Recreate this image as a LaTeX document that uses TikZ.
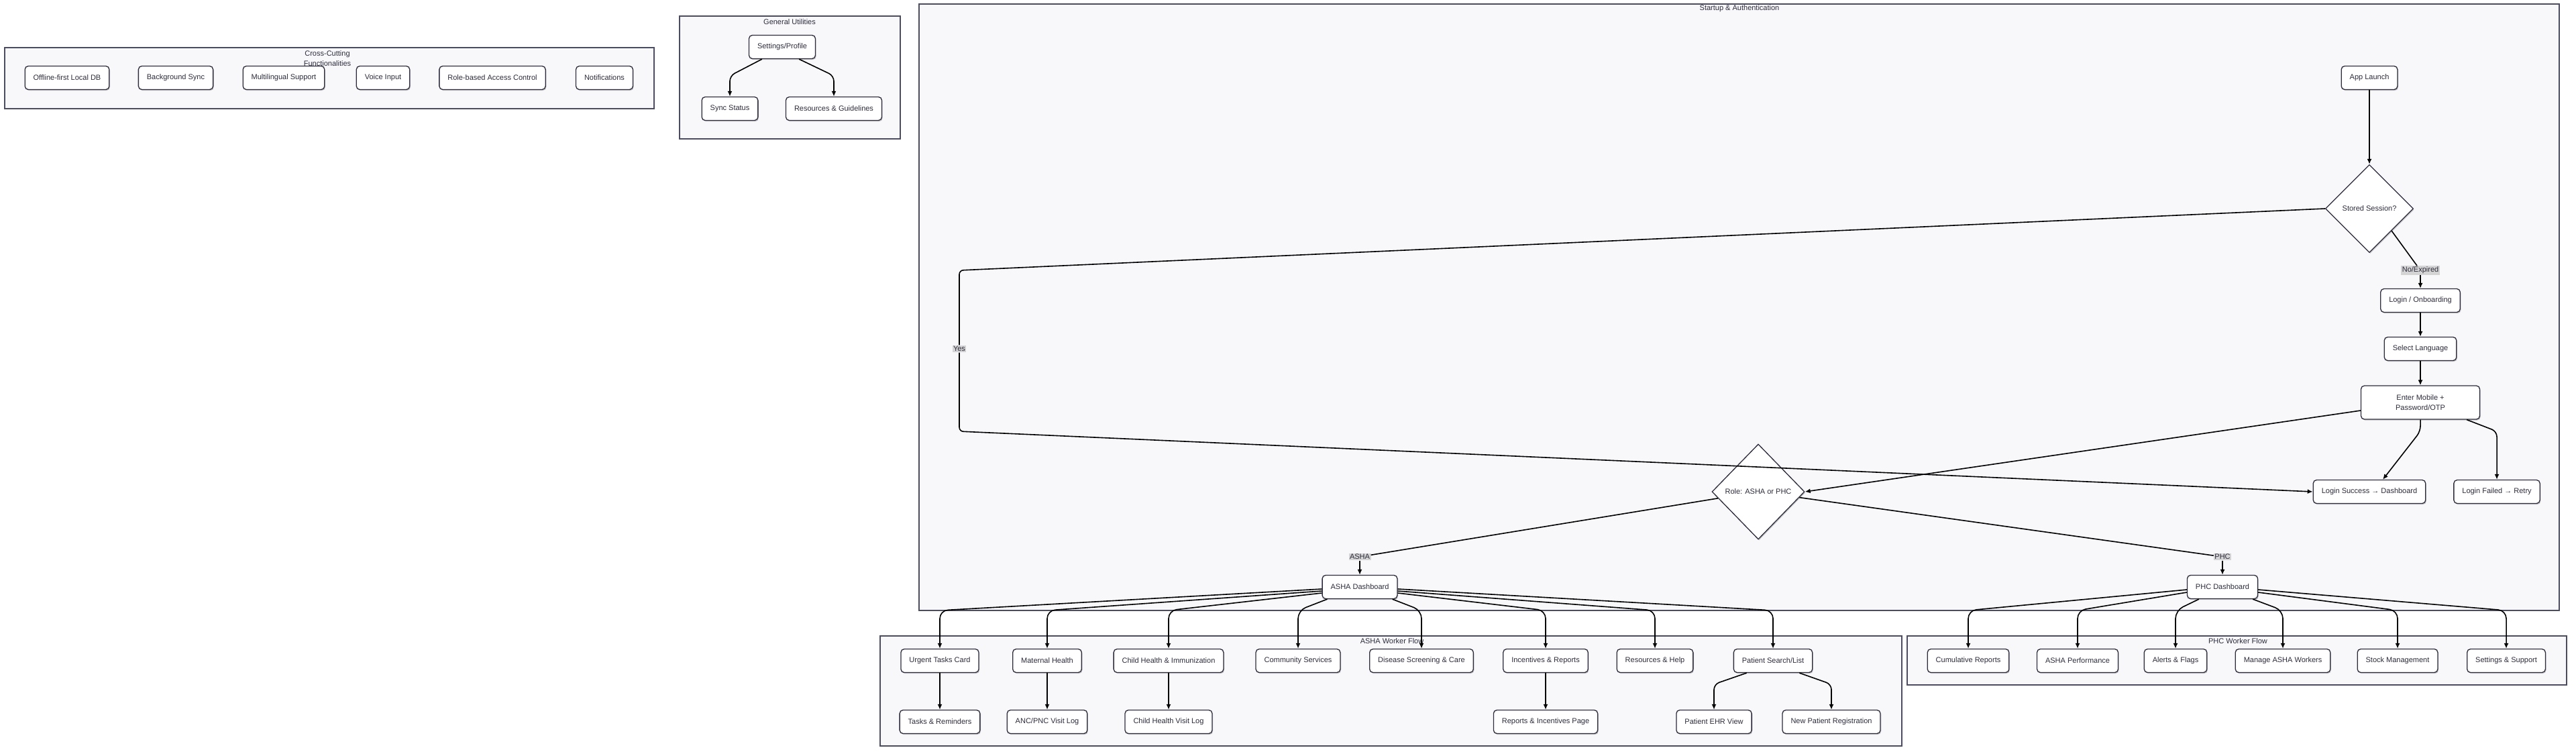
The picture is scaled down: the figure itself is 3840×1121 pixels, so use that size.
\documentclass[tikz,border=0pt]{standalone}
\usepackage{fontspec}
\setmainfont{Liberation Sans}
\usepackage{tikz}
\usetikzlibrary{shapes.geometric,arrows.meta,shadows}
\definecolor{ink}{RGB}{44,44,60}
\definecolor{cfill}{RGB}{248,248,251}
\definecolor{cline}{RGB}{76,76,96}
\definecolor{lblgray}{RGB}{212,212,212}
\tikzset{box/.style = {draw=ink, fill=white, rounded corners=5, line width=1.3, text=ink, minimum height=35, inner xsep=12.5, font=\fontsize{11}{15}\selectfont, drop shadow={shadow xshift=1.2pt, shadow yshift=-1.6pt, opacity=0.2, fill=black}}}
\tikzset{dec/.style = {diamond, draw=ink, fill=white, line width=1.3, text=ink, inner sep=0, font=\fontsize{11}{15}\selectfont, drop shadow={shadow xshift=1.2pt, shadow yshift=-1.6pt, opacity=0.2, fill=black}}}
\tikzset{cluster/.style = {draw=cline, fill=cfill, line width=1.6}}
\tikzset{ctitle/.style = {text=ink, align=center, inner sep=0, font=\fontsize{11}{15}\selectfont}}
\tikzset{lbl/.style = {fill=lblgray, text=ink, inner sep=1.5, font=\fontsize{11}{13}\selectfont}}
\tikzset{wire/.style = {draw=black, line width=1.6}}
\tikzset{arr/.style = {wire, -{Latex[length=8pt, width=7pt]}}}

\begin{document}
\begin{tikzpicture}[x=1pt, y=-1pt]
      \useasboundingbox (0,0) rectangle (3840,1121);
      \draw [cluster] (7,71) rectangle (975,162);
      \draw [cluster] (1013,24) rectangle (1342,207);
      \draw [cluster] (1370,6) rectangle (3815,910) coordinate (authse);
      \draw [cluster] (1312,948) rectangle (2835,1112);
      \draw [cluster] (2843,948) rectangle (3826,1021);
      \node [ctitle] (crosst) at (488,87) {Cross-Cutting\\Functionalities};
      \node [ctitle] (utilt) at (1177,33) {General Utilities};
      \node [ctitle] (autht) at (2593,13) {Startup \& Authentication};
      \node [ctitle] (ashat) at (2075,956) {ASHA Worker Flow};
      \node [ctitle] (phct) at (3336,956) {PHC Worker Flow};
      % cross-cutting
      \node [box] (offline) at (100,116) {Offline-first Local DB};
      \node [box] (bgsync) at (262,116) {Background Sync};
      \node [box] (multi) at (423,116) {Multilingual Support};
      \node [box] (voice) at (571,116) {Voice Input};
      \node [box] (rbac) at (734,116) {Role-based Access Control};
      \node [box] (notif) at (901,116) {Notifications};
      % utilities
      \node [box] (settings) at (1166,70) {Settings/Profile};
      \node [box] (syncst) at (1088,162) {Sync Status};
      \node [box] (guides) at (1243,162) {Resources \& Guidelines};
      % startup
      \node [box] (launch) at (3532,116) {App Launch};
      \node [dec, minimum width=131, minimum height=131] (session) at (3532,311) {Stored Session?};
      \node [box] (login) at (3608,448) {Login / Onboarding};
      \node [box] (lang) at (3608,520) {Select Language};
      \node [box, align=center, minimum width=177, minimum height=50] (creds) at (3608,600) {Enter Mobile +\\Password/OTP};
      \node [dec, minimum width=138, minimum height=142] (role) at (2621,733) {Role: ASHA or PHC};
      \node [box] (success) at (3532,733) {Login Success → Dashboard};
      \node [box] (failed) at (3722,733) {Login Failed → Retry};
      \node [box] (ashad) at (2027,875) {ASHA Dashboard};
      \node [box] (phcd) at (3313,875) {PHC Dashboard};
      \node [lbl] (noexp) at (3608,403) {No/Expired};
      \node [lbl] (yes) at (1430,520) {Yes};
      \node [lbl] (ashal) at (2027,830) {ASHA};
      \node [lbl] (phcl) at (3313,830) {PHC};
      \coordinate (yestop) at (1430,403);
      \coordinate (yesbot) at (1430,643);
      \coordinate (cb) at (3608,643);
      % asha flow
      \node [box] (urgent) at (1401,985) {Urgent Tasks Card};
      \node [box] (maternal) at (1561,985) {Maternal Health};
      \node [box] (childimm) at (1742,985) {Child Health \& Immunization};
      \node [box] (community) at (1935,985) {Community Services};
      \node [box] (disease) at (2119,985) {Disease Screening \& Care};
      \node [box] (incent) at (2304,985) {Incentives \& Reports};
      \node [box] (reshelp) at (2467,985) {Resources \& Help};
      \node [box] (search) at (2643,985) {Patient Search/List};
      \node [box] (tasks) at (1401,1076) {Tasks \& Reminders};
      \node [box] (ancpnc) at (1561,1076) {ANC/PNC Visit Log};
      \node [box] (childlog) at (1742,1076) {Child Health Visit Log};
      \node [box] (reports) at (2304,1076) {Reports \& Incentives Page};
      \node [box] (ehr) at (2555,1076) {Patient EHR View};
      \node [box] (newpat) at (2730,1076) {New Patient Registration};
      \coordinate (sb) at (2643,1020);
      % phc flow
      \node [box] (cumrep) at (2934,985) {Cumulative Reports};
      \node [box] (ashaperf) at (3097,985) {ASHA Performance};
      \node [box] (alerts) at (3243,985) {Alerts \& Flags};
      \node [box] (manage) at (3403,985) {Manage ASHA Workers};
      \node [box] (stock) at (3574,985) {Stock Management};
      \node [box] (supp) at (3736,985) {Settings \& Support};
      % edges
      \coordinate (ub) at (1166,113);
      \draw [arr, rounded corners=8] ([xshift=20pt]settings.south west) -- (syncst.north |- ub) -- (syncst.north);
      \draw [arr, rounded corners=8] ([xshift=-25pt]settings.south east) -- (guides.north |- ub) -- (guides.north);
      \draw [arr] (launch) -- (session);
      \draw [wire] (session.south east) -- (noexp);
      \draw [arr] (noexp) -- (login);
      \draw [wire, rounded corners=6] (session.west) -- (yestop) -- (yes);
      \draw [arr, rounded corners=6] (yes) -- (yesbot) -- (success.west);
      \draw [arr] (login) -- (lang);
      \draw [arr] (lang) -- (creds);
      \draw [arr] ([yshift=-12pt]creds.west) -- (role.east);
      \draw [arr, rounded corners=8] (creds.south) -- (cb) -- ([xshift=20pt]success.north);
      \draw [arr, rounded corners=8] ([xshift=-20pt]creds.south east) -- (failed.north |- cb) -- (failed.north);
      \draw [wire] (role) -- (ashal);
      \draw [arr] (ashal) -- (ashad);
      \draw [wire] (role) -- (phcl);
      \draw [arr] (phcl) -- (phcd);
      \draw [arr, rounded corners=12] ([yshift=-3pt]ashad.west) -- (urgent.north |- authse) -- (urgent.north);
      \draw [arr, rounded corners=12] ([yshift=-6pt]ashad.west) -- (maternal.north |- authse) -- (maternal.north);
      \draw [arr, rounded corners=12] ([yshift=-9pt]ashad.west) -- (childimm.north |- authse) -- (childimm.north);
      \draw [arr, rounded corners=12] ([xshift=8pt]ashad.south west) -- (community.north |- authse) -- (community.north);
      \draw [arr, rounded corners=12] ([xshift=-8pt]ashad.south east) -- (disease.north |- authse) -- (disease.north);
      \draw [arr, rounded corners=12] ([yshift=-9pt]ashad.east) -- (incent.north |- authse) -- (incent.north);
      \draw [arr, rounded corners=12] ([yshift=-6pt]ashad.east) -- (reshelp.north |- authse) -- (reshelp.north);
      \draw [arr, rounded corners=12] ([yshift=-3pt]ashad.east) -- (search.north |- authse) -- (search.north);
      \draw [arr] (urgent) -- (tasks);
      \draw [arr] (maternal) -- (ancpnc);
      \draw [arr] (childimm) -- (childlog);
      \draw [arr] (incent) -- (reports);
      \draw [arr, rounded corners=8] ([xshift=20pt]search.south west) -- (ehr.north |- sb) -- (ehr.north);
      \draw [arr, rounded corners=8] ([xshift=-20pt]search.south east) -- (newpat.north |- sb) -- (newpat.north);
      \draw [arr, rounded corners=12] ([yshift=-4pt]phcd.west) -- (cumrep.north |- authse) -- (cumrep.north);
      \draw [arr, rounded corners=12] ([yshift=-8pt]phcd.west) -- (ashaperf.north |- authse) -- (ashaperf.north);
      \draw [arr, rounded corners=12] ([xshift=18pt]phcd.south west) -- (alerts.north |- authse) -- (alerts.north);
      \draw [arr, rounded corners=12] ([xshift=-8pt]phcd.south east) -- (manage.north |- authse) -- (manage.north);
      \draw [arr, rounded corners=12] ([yshift=-8pt]phcd.east) -- (stock.north |- authse) -- (stock.north);
      \draw [arr, rounded corners=12] ([yshift=-4pt]phcd.east) -- (supp.north |- authse) -- (supp.north);
\end{tikzpicture}
\end{document}
